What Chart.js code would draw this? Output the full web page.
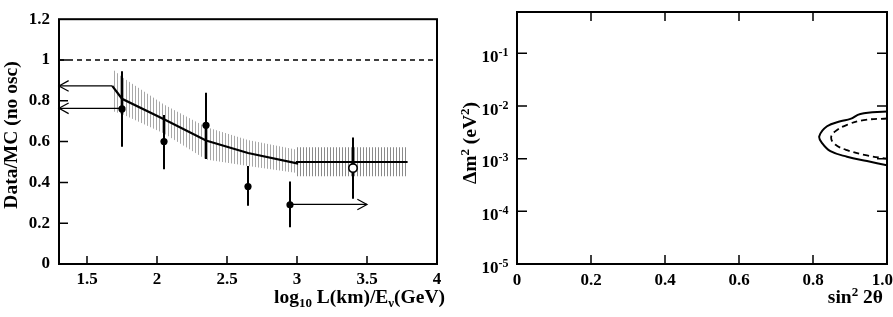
<!DOCTYPE html>
<html>
<head>
<meta charset="utf-8">
<script src="https://cdn.jsdelivr.net/npm/chart.js@4.4.0/dist/chart.umd.min.js"></script>
<style>
  html, body { margin: 0; padding: 0; background: #fff; overflow: hidden; }
  #wrap { position: relative; width: 893px; height: 317px; overflow: hidden; }
  canvas { position: absolute; top: 0; }
  #left { left: 0; }
  #right { left: 440px; }
</style>
</head>
<body>
<div id="wrap">
  <canvas id="left" width="450" height="317"></canvas>
  <canvas id="right" width="463" height="317"></canvas>
</div>
<script>
const FONT = "'Liberation Serif', 'Times New Roman', serif";

// ---- Panneau gauche : Data/MC en fonction de log10 L/E ----
const xTicksLeft = [1.5, 2, 2.5, 3, 3.5, 4];
const yTicksLeft = [0, 0.2, 0.4, 0.6, 0.8, 1, 1.2];

// points pleins + barres d'erreur
const dataX = [1.75, 2.05, 2.35, 2.65, 2.95];
const dataY = [0.76, 0.60, 0.68, 0.38, 0.29];
const dataLow = [0.575, 0.465, 0.515, 0.285, 0.18];
const dataHigh = [0.945, 0.73, 0.84, 0.48, 0.405];

// point ouvert
const openX = [3.4];
const openY = [0.47];
const openLow = [0.32];
const openHigh = [0.62];

// courbe MC (oscillation)
const mcX = [1.68, 1.75, 2.05, 2.35, 2.65, 3.0, 3.0, 3.79];
const mcY = [0.873, 0.81, 0.71, 0.605, 0.544, 0.493, 0.5, 0.5];

// bande d'incertitude hachurée
const bandX1 = [1.68, 1.75, 2.05, 2.35, 2.65, 3.0];
const bandHigh1 = [0.957, 0.917, 0.782, 0.671, 0.608, 0.56];
const bandLow1 = [0.75, 0.735, 0.64, 0.512, 0.481, 0.446];
const bandX2 = [3.0, 3.79];
const bandHigh2 = [0.572, 0.572];
const bandLow2 = [0.43, 0.43];

// flèches (départ -> pointe)
const arrowFromX = [1.68, 1.75, 2.95];
const arrowToX = [1.3, 1.3, 3.5];
const arrowY = [0.873, 0.763, 0.292];

const refLevel = 1;

// ---- Panneau droit : contours sin^2 2θ / Δm^2 ----
const xTicksRight = [0, 0.2, 0.4, 0.6, 0.8, 1.0];
const xLabelsRight = ['0', '0.2', '0.4', '0.6', '0.8', '1.0'];
const yExpRight = [-5, -4, -3, -2, -1];

const solidX = [1.0, 0.928, 0.901, 0.874, 0.838, 0.817, 0.824, 0.847, 0.892, 0.946, 1.0];
const solidY = [7.9e-3, 7.06e-3, 5.69e-3, 5.13e-3, 4.12e-3, 2.67e-3, 2.0e-3, 1.39e-3, 1.09e-3, 9.0e-4, 7.5e-4];

const dashX = [1.0, 0.937, 0.892, 0.860, 0.849, 0.860, 0.892, 0.946, 1.0];
const dashY = [5.8e-3, 5.4e-3, 4.4e-3, 3.3e-3, 2.5e-3, 1.86e-3, 1.45e-3, 1.15e-3, 1.0e-3];


function pts(xs, ys) {
    return xs.map((x, i) => ({ x: x, y: ys[i] }));
}

// motif de hachures verticales
function hatch(color) {
    const c = document.createElement('canvas');
    c.width = 3;
    c.height = 3;
    const g = c.getContext('2d');
    g.fillStyle = color;
    g.fillRect(0, 0, 1, 3);
    return g.createPattern(c, 'repeat');
}

// texte composé (indices / exposants) : [texte, taille, décalage vertical]
function drawParts(ctx, parts, x, y, align) {
    ctx.textAlign = 'left';
    ctx.textBaseline = 'alphabetic';
    let total = 0;
    parts.forEach(p => {
        ctx.font = 'bold ' + p[1] + 'px ' + FONT;
        total += ctx.measureText(p[0]).width;
    });
    let cx = align === 'right' ? x - total : (align === 'center' ? x - total / 2 : x);
    parts.forEach(p => {
        ctx.font = 'bold ' + p[1] + 'px ' + FONT;
        ctx.fillText(p[0], cx, y + p[2]);
        cx += ctx.measureText(p[0]).width;
    });
}

function drawRotated(ctx, parts, x, y) {
    ctx.save();
    ctx.translate(x, y);
    ctx.rotate(-Math.PI / 2);
    drawParts(ctx, parts, 0, 0, 'center');
    ctx.restore();
}

// cadre + graduations intérieures
function framePlugin(cfg) {
    return {
        id: 'frame',
        afterDraw(chart) {
            const ctx = chart.ctx;
            const a = chart.chartArea;
            const sx = chart.scales.x;
            const sy = chart.scales.y;
            ctx.save();
            ctx.strokeStyle = '#000';
            ctx.fillStyle = '#000';
            ctx.lineWidth = 1.5;
            ctx.beginPath();
            sx.ticks.forEach(t => {
                const px = sx.getPixelForValue(t.value);
                if (px <= a.left + 1 || px >= a.right - 1) return;
                ctx.moveTo(px, a.bottom);
                ctx.lineTo(px, a.bottom - cfg.xTick);
                if (cfg.mirror) {
                    ctx.moveTo(px, a.top);
                    ctx.lineTo(px, a.top + cfg.xTick);
                }
            });
            sy.ticks.forEach(t => {
                const py = sy.getPixelForValue(t.value);
                if (py <= a.top + 1 || py >= a.bottom - 1) return;
                ctx.moveTo(a.left, py);
                ctx.lineTo(a.left + cfg.yTick, py);
                if (cfg.mirror) {
                    ctx.moveTo(a.right, py);
                    ctx.lineTo(a.right - cfg.yTick, py);
                }
            });
            ctx.stroke();
            ctx.lineWidth = 2;
            ctx.strokeRect(a.left, a.top, a.right - a.left, a.bottom - a.top);
            cfg.text(chart, ctx);
            ctx.restore();
        }
    };
}

// pointes de flèche sur les jeux de données marqués "arrow"
const arrowPlugin = {
    id: 'arrows',
    afterDatasetsDraw(chart) {
        const ctx = chart.ctx;
        chart.data.datasets.forEach((ds, i) => {
            if (!ds.arrow) return;
            const el = chart.getDatasetMeta(i).data;
            const tip = el[el.length - 1];
            const prev = el[el.length - 2];
            const ang = Math.atan2(tip.y - prev.y, tip.x - prev.x);
            const len = 11;
            const spread = 0.5;
            ctx.save();
            ctx.strokeStyle = '#000';
            ctx.lineWidth = 1.2;
            ctx.beginPath();
            ctx.moveTo(tip.x - len * Math.cos(ang - spread), tip.y - len * Math.sin(ang - spread));
            ctx.lineTo(tip.x, tip.y);
            ctx.lineTo(tip.x - len * Math.cos(ang + spread), tip.y - len * Math.sin(ang + spread));
            ctx.stroke();
            ctx.restore();
        });
    }
};

const tickFont = { family: FONT, size: 17, weight: 'bold' };

// ---------- graphique de gauche ----------
const errorBars = dataX.concat(openX).map((x, i) => {
    const lo = dataLow.concat(openLow)[i];
    const hi = dataHigh.concat(openHigh)[i];
    return { data: pts([x, x], [lo, hi]), borderColor: '#000', borderWidth: 2, pointRadius: 0, order: 1 };
});

const arrows = arrowFromX.map((x0, i) => ({
    data: pts([x0, arrowToX[i]], [arrowY[i], arrowY[i]]),
    borderColor: '#000', borderWidth: 1.2, pointRadius: 0, arrow: true, order: 2
}));

const leftChart = new Chart(document.getElementById('left'), {
    type: 'line',
    data: {
        datasets: [
            { data: pts(dataX, dataY), showLine: false, pointRadius: 3.6, pointBackgroundColor: '#000', pointBorderWidth: 0, order: 0 },
            { data: pts(openX, openY), showLine: false, pointRadius: 4.2, pointBackgroundColor: '#fff', pointBorderColor: '#000', pointBorderWidth: 1.6, order: 0 },
            ...errorBars,
            { data: pts(mcX, mcY), borderColor: '#000', borderWidth: 2.2, pointRadius: 0, order: 2 },
            ...arrows,
            { data: pts([1.3, 4], [refLevel, refLevel]), borderColor: '#000', borderWidth: 1.5, borderDash: [5, 4], pointRadius: 0, order: 3 },
            { data: pts(bandX1, bandHigh1), borderWidth: 0, pointRadius: 0, fill: '+1', backgroundColor: hatch('#a8a8a8'), order: 5 },
            { data: pts(bandX1, bandLow1), borderWidth: 0, pointRadius: 0, fill: false, order: 5 },
            { data: pts(bandX2, bandHigh2), borderWidth: 0, pointRadius: 0, fill: '+1', backgroundColor: hatch('#8a8a8a'), order: 5 },
            { data: pts(bandX2, bandLow2), borderWidth: 0, pointRadius: 0, fill: false, order: 5 }
        ]
    },
    options: {
        responsive: false,
        animation: false,
        devicePixelRatio: 1,
        events: [],
        layout: { padding: { left: 0, top: 12, right: 13, bottom: 0 } },
        plugins: { legend: { display: false }, tooltip: { enabled: false } },
        scales: {
            x: {
                type: 'linear', min: 1.3, max: 4,
                afterBuildTicks: s => { s.ticks = xTicksLeft.map(v => ({ value: v })); },
                afterFit: s => { s.height = 53; },
                grid: { display: false, drawTicks: false },
                border: { display: false },
                ticks: { font: tickFont, color: '#000', padding: 5, maxRotation: 0, callback: v => String(v) }
            },
            y: {
                type: 'linear', min: 0, max: 1.2,
                afterBuildTicks: s => { s.ticks = yTicksLeft.map(v => ({ value: v })); },
                afterFit: s => { s.width = 59; },
                grid: { display: false, drawTicks: false },
                border: { display: false },
                ticks: { font: tickFont, color: '#000', padding: 9, callback: v => String(v) }
            }
        }
    },
    plugins: [arrowPlugin, framePlugin({
        xTick: 8, yTick: 9, mirror: false,
        text: (chart, ctx) => {
            drawParts(ctx, [['log', 19.5, 0], ['10', 13, 4], [' L(km)/E', 19.5, 0], ['\u03bd', 13, 4], ['(GeV)', 19.5, 0]], 445, 303, 'right');
            drawRotated(ctx, [['Data/MC (no osc)', 19.5, 0]], 17, 135);
        }
    })]
});

// ---------- graphique de droite ----------
const rightChart = new Chart(document.getElementById('right'), {
    type: 'line',
    data: {
        datasets: [
            { data: pts(solidX, solidY), borderColor: '#000', borderWidth: 2, pointRadius: 0, tension: 0.4 },
            { data: pts(dashX, dashY), borderColor: '#000', borderWidth: 1.8, borderDash: [6, 4], pointRadius: 0, tension: 0.4 }
        ]
    },
    options: {
        responsive: false,
        animation: false,
        devicePixelRatio: 1,
        events: [],
        layout: { padding: { left: 0, top: 12, right: 16, bottom: 0 } },
        plugins: { legend: { display: false }, tooltip: { enabled: false } },
        scales: {
            x: {
                type: 'linear', min: 0, max: 1,
                afterBuildTicks: s => { s.ticks = xTicksRight.map(v => ({ value: v })); },
                afterFit: s => { s.height = 53; },
                grid: { display: false, drawTicks: false },
                border: { display: false },
                ticks: { display: false }
            },
            y: {
                type: 'logarithmic', min: 1e-5, max: 0.61,
                afterBuildTicks: s => { s.ticks = yExpRight.map(e => ({ value: Math.pow(10, e) })); },
                afterFit: s => { s.width = 77; },
                grid: { display: false, drawTicks: false },
                border: { display: false },
                ticks: { display: false }
            }
        }
    },
    plugins: [framePlugin({
        xTick: 9, yTick: 10, mirror: true,
        text: (chart, ctx) => {
            const sx = chart.scales.x;
            const sy = chart.scales.y;
            const edge = chart.width - 10;
            // étiquettes de l'axe x (la dernière reste dans la fenêtre)
            ctx.font = 'bold 17px ' + FONT;
            xTicksRight.forEach((v, i) => {
                const w = ctx.measureText(xLabelsRight[i]).width;
                const px = Math.min(sx.getPixelForValue(v), edge - w / 2);
                drawParts(ctx, [[xLabelsRight[i], 17, 0]], px, 285, 'center');
            });
            // étiquettes 10^n de l'axe y
            const right = chart.chartArea.left - 8.5;
            yExpRight.forEach(e => {
                const py = sy.getPixelForValue(Math.pow(10, e));
                drawParts(ctx, [['10', 17, 0], [String(e), 12, -6]], right, py + 8.5, 'right');
            });
            drawParts(ctx, [['sin', 19.5, 0], ['2', 13, -7], [' 2\u03b8', 19.5, 0]], 443, 303, 'right');
            drawRotated(ctx, [['\u0394m', 19.5, 0], ['2', 13, -7], [' (eV', 19.5, 0], ['2', 13, -7], [')', 19.5, 0]], 36, 143);
        }
    })]
});
</script>
</body>
</html>
